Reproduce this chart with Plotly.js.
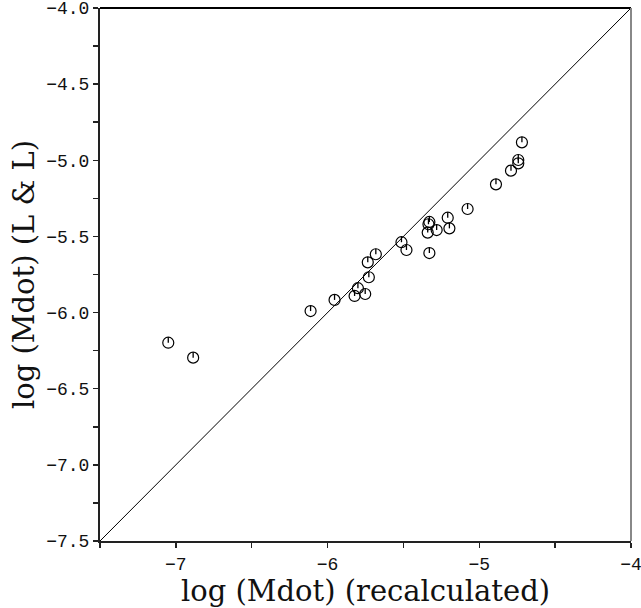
<!DOCTYPE html>
<html>
<head>
<meta charset="utf-8">
<script src="https://cdn.plot.ly/plotly-3.0.1.min.js"></script>
<style>html,body{margin:0;padding:0;background:#fff;}#chart{width:641px;height:608px;}</style>
</head>
<body>
<div id="chart"></div>
<script>
// Data
const mdotRecalc = [-7.050, -6.886, -6.112, -5.954, -5.822, -5.800, -5.752, -5.728, -5.735, -5.682,
                    -5.513, -5.480, -5.329, -5.329, -5.335, -5.340, -5.281, -5.208, -5.197, -5.077,
                    -4.890, -4.791, -4.743, -4.743, -4.719];
const mdotLL     = [-6.198, -6.296, -5.990, -5.917, -5.891, -5.840, -5.878, -5.768, -5.670, -5.617,
                    -5.538, -5.589, -5.609, -5.405, -5.420, -5.475, -5.458, -5.377, -5.447, -5.320,
                    -5.158, -5.068, -5.020, -4.998, -4.882];
const diagX = [-7.5, -4.0];
const diagY = [-7.5, -4.0];
const xTitle = 'log (Mdot) (recalculated)';
const yTitle = 'log (Mdot) (L &amp; L)';

const stick = 0.036; // inner tick of the marker glyph (style)
const tickFont = {family: 'Liberation Mono, monospace', size: 18, color: '#111'};
const titleFont = {family: 'DejaVu Serif, serif', size: 29, color: '#111'};

const traces = [
  {x: diagX, y: diagY, mode: 'lines', line: {color: '#000', width: 1}, hoverinfo: 'skip'},
  {x: mdotRecalc, y: mdotLL, mode: 'markers', type: 'scatter',
   marker: {symbol: 'circle-open', size: 11, color: '#000', line: {width: 1.2, color: '#000'}},
   error_y: {type: 'data', symmetric: false, array: mdotLL.map(() => stick),
             arrayminus: mdotLL.map(() => 0), width: 0, thickness: 1.3, color: '#000'}}
];

const layout = {
  width: 641, height: 608,
  margin: {l: 100, r: 10, t: 8, b: 67},
  showlegend: false,
  paper_bgcolor: '#fff', plot_bgcolor: '#fff',
  xaxis: {
    range: [-7.5, -3.99999], tick0: -7, dtick: 1, ticks: 'outside', ticklen: 5, tickwidth: 1.5,
    tickcolor: '#222', showgrid: false, zeroline: false, showline: true, linecolor: '#222',
    linewidth: 2, tickfont: tickFont, automargin: false, ticklabeloverflow: 'allow',
    minor: {dtick: 0.5, tick0: -7.5, ticks: 'outside', ticklen: 5, tickwidth: 1.5, tickcolor: '#222', showgrid: false},
    title: {text: xTitle, font: titleFont, standoff: 2}
  },
  yaxis: {
    range: [-7.5, -3.99999], tick0: -7.5, dtick: 0.5, tickformat: '.1f', ticks: 'outside', ticklen: 5,
    tickwidth: 1.5, tickcolor: '#222', showgrid: false, zeroline: false, showline: true,
    linecolor: '#222', linewidth: 2, tickfont: tickFont, automargin: false, ticklabeloverflow: 'allow',
    minor: {dtick: 0.25, tick0: -7.5, ticks: 'outside', ticklen: 5, tickwidth: 1.5, tickcolor: '#222', showgrid: false},
    title: {text: yTitle, font: titleFont, standoff: 3}
  },
  shapes: [
    {type: 'line', xref: 'paper', yref: 'paper', x0: 0, x1: 1, y0: 1, y1: 1, line: {color: '#000', width: 2}},
    {type: 'line', xref: 'paper', yref: 'paper', x0: 1, x1: 1, y0: 0, y1: 1, line: {color: '#888', width: 2}}
  ]
};

Plotly.newPlot('chart', traces, layout, {displayModeBar: false, staticPlot: true});
</script>
</body>
</html>
